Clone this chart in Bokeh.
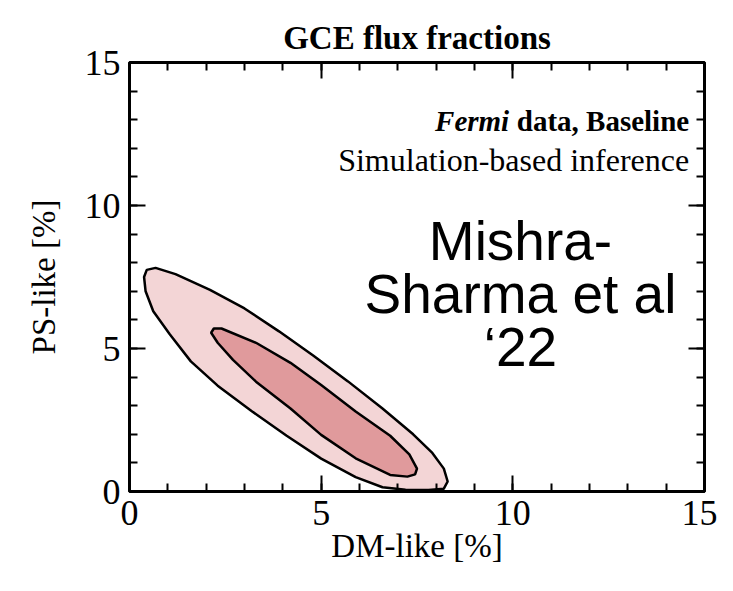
from bokeh.plotting import figure
from bokeh.models import FixedTicker, LinearAxis, Label, Range1d, CustomJSTickFormatter
from bokeh.embed import file_html
from bokeh.resources import INLINE

# ---- data ----
major_ticks = [0, 5, 10, 15]
minor_ticks = list(range(0, 16))

# outer (95%) contour, DM-like [%] vs PS-like [%]
outer_dm = [0.38, 0.45, 0.68, 1.2, 2.1, 3.0, 3.9, 4.8, 5.7, 6.6, 7.4, 7.9, 8.2, 8.3,
            8.2, 7.8, 7.2, 6.6, 5.9, 5.0, 4.1, 3.2, 2.3, 1.6, 1.05, 0.62, 0.42, 0.38]
outer_ps = [7.5, 7.75, 7.82, 7.6, 7.05, 6.4, 5.6, 4.75, 3.85, 2.9, 2.0, 1.35, 0.8, 0.35,
            0.1, 0.05, 0.06, 0.15, 0.5, 1.15, 1.95, 2.8, 3.7, 4.55, 5.5, 6.3, 7.0, 7.5]

# inner (68%) contour
inner_dm = [2.13, 2.2, 2.4, 3.3, 4.2, 5.0, 5.9, 6.8, 7.3, 7.5, 7.45, 7.25, 6.8, 5.9,
            5.0, 4.2, 3.3, 2.7, 2.3, 2.13]
inner_ps = [5.55, 5.7, 5.7, 5.2, 4.5, 3.72, 2.8, 1.95, 1.3, 0.8, 0.6, 0.52, 0.58, 1.16,
            1.98, 2.9, 3.84, 4.6, 5.2, 5.55]

title_text = "GCE flux fractions"
x_label = "DM-like [%]"
y_label = "PS-like [%]"
legend_bold_italic = "Fermi"
legend_bold = "data, Baseline"
legend_sub = "Simulation-based inference"
annotation_lines = ["Mishra-", "Sharma et al", "\u201822"]

SERIF = "Liberation Serif"
SANS = "Liberation Sans"

p = figure(width=717, height=575, x_range=Range1d(0, 15), y_range=Range1d(0, 15),
           output_backend="svg", toolbar_location=None,
           min_border_left=129, min_border_right=13, min_border_top=62, min_border_bottom=84,
           title=title_text, x_axis_label=x_label, y_axis_label=y_label)

p.background_fill_color = "white"
p.border_fill_color = "white"
p.outline_line_color = "black"
p.outline_line_width = 3
p.grid.visible = False

p.title.align = "center"
p.title.text_font = SERIF
p.title.text_font_style = "bold"
p.title.text_font_size = "33px"
p.title.text_color = "black"
p.title.standoff = 13

bottom_ax = p.below[0]
left_ax = p.left[0]
top_ax = LinearAxis()
right_ax = LinearAxis()
p.add_layout(top_ax, "above")
p.add_layout(right_ax, "right")

for ax in [bottom_ax, left_ax, top_ax, right_ax]:
    ax.ticker = FixedTicker(ticks=major_ticks, minor_ticks=minor_ticks)
    ax.axis_line_color = None
    ax.major_tick_in = 16
    ax.major_tick_out = 0
    ax.minor_tick_in = 8
    ax.minor_tick_out = 0
    ax.major_tick_line_width = 2
    ax.minor_tick_line_width = 2
    ax.major_tick_line_color = "black"
    ax.minor_tick_line_color = "black"
    ax.major_label_text_font = SERIF
    ax.major_label_text_font_size = "36px"
    ax.major_label_text_color = "black"
    ax.axis_label_text_font = SERIF
    ax.axis_label_text_font_size = "33px"
    ax.axis_label_text_font_style = "normal"
    ax.axis_label_text_color = "black"

for ax in [top_ax, right_ax]:
    ax.formatter = CustomJSTickFormatter(code="return '';")
    ax.major_label_text_font_size = "0px"
    ax.major_label_standoff = 0

left_ax.major_label_standoff = 9
left_ax.axis_label_standoff = 20
bottom_ax.major_label_standoff = 9
bottom_ax.axis_label_standoff = 0

p.patch(outer_dm, outer_ps, fill_color="#f3d5d6", line_color="black", line_width=2.5)
p.patch(inner_dm, inner_ps, fill_color="#e09a9c", line_color="black", line_width=2.5)

# header text (top right inside the frame)
p.add_layout(Label(x=14.6, y=12.95, text=legend_bold, text_align="right",
                   text_baseline="alphabetic", text_font=SERIF, text_font_style="bold",
                   text_font_size="29px", text_color="black"))
p.add_layout(Label(x=14.6, y=12.95, x_offset=-180, text=legend_bold_italic, text_align="right",
                   text_baseline="alphabetic", text_font=SERIF, text_font_style="bold italic",
                   text_font_size="29px", text_color="black"))
p.add_layout(Label(x=14.6, y=11.6, text=legend_sub, text_align="right",
                   text_baseline="alphabetic", text_font=SERIF, text_font_style="normal",
                   text_font_size="32px", text_color="black"))

for line, yb in zip(annotation_lines, [8.75, 6.9, 5.05]):
    p.add_layout(Label(x=10.2, y=yb, text=line, text_align="center",
                       text_baseline="alphabetic", text_font=SANS,
                       text_font_size="55px", text_color="black"))

open("out.html", "w").write(file_html(p, INLINE))
